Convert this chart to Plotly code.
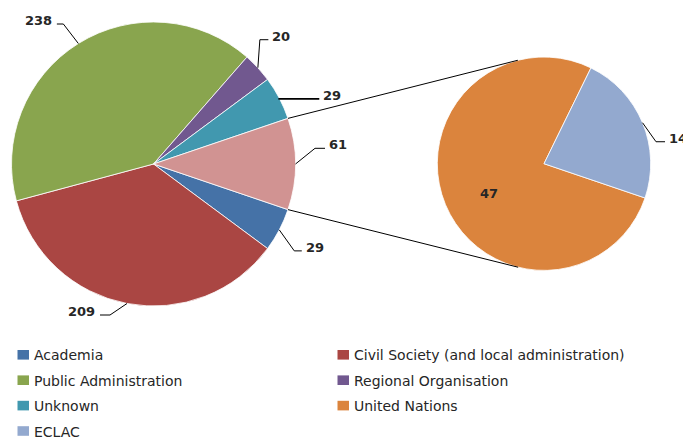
import math
import plotly.graph_objects as go

# ---- data -------------------------------------------------------------
main_labels = ["Academia", "Civil Society (and local administration)",
               "Public Administration", "Regional Organisation", "Unknown"]
main_values = [29, 209, 238, 20, 29]
sub_labels = ["United Nations", "ECLAC"]
sub_values = [47, 14]

legend_labels = main_labels + sub_labels

# ---- styling ----------------------------------------------------------
main_colors = ["#4572A7", "#AA4643", "#89A54E", "#71588F", "#4198AF"]
other_color = "#D19392"
sub_colors = ["#DB843D", "#93A9CF"]
TEXT = "#262626"
LABEL_FONT = dict(family="DejaVu Sans", size=13, color=TEXT, weight="bold")
LEGEND_FONT = dict(family="DejaVu Sans", size=14, color=TEXT)

W, H = 683, 439
main_c, main_r = (153.5, 164.0), 142.0
sub_c, sub_r = (544.0, 163.7), 106.7

# leader-line geometry per label: (elbow dx, elbow dy, horizontal run, line width)
leader_style = {
    "Academia": (15, 21, 7.5, 1),
    "Civil Society (and local administration)": (-17, 11.5, -10, 1),
    "Public Administration": (-15, -19.5, -6.5, 1),
    "Regional Organisation": (2, -28, 8.5, 1),
    "Unknown": (0, 0.8, 40, 1.8),
    "Other": (19.5, -15.7, 10, 1),
    "ECLAC": (13.5, 19, 9, 1),
}


def px(x):
    return x / W


def py(y):
    return 1 - y / H


def on_circle(c, r, math_deg):
    a = math.radians(math_deg)
    return c[0] + r * math.cos(a), c[1] - r * math.sin(a)


other_value = sum(sub_values)
all_main_values = main_values + [other_value]
main_total = sum(all_main_values)
other_span = 360 * other_value / main_total
# rotation (clockwise from 12 o'clock) that centres the "other" slice at 3 o'clock
rotation = 90 + other_span / 2

fig = go.Figure()

fig.add_trace(go.Pie(
    labels=main_labels + ["Other"], values=all_main_values, sort=False,
    direction="clockwise", rotation=rotation, textinfo="none", hoverinfo="label+value",
    marker=dict(colors=main_colors + [other_color], line=dict(color="white", width=0.8)),
    domain=dict(x=[px(main_c[0] - main_r), px(main_c[0] + main_r)],
                y=[py(main_c[1] + main_r), py(main_c[1] - main_r)]),
    showlegend=False,
))

fig.add_trace(go.Pie(
    labels=sub_labels, values=sub_values, sort=False,
    direction="clockwise", rotation=rotation, textinfo="none", hoverinfo="label+value",
    marker=dict(colors=sub_colors, line=dict(color="white", width=0.8)),
    domain=dict(x=[px(sub_c[0] - sub_r), px(sub_c[0] + sub_r)],
                y=[py(sub_c[1] + sub_r), py(sub_c[1] - sub_r)]),
    showlegend=False,
))

shapes = []
annotations = []


def slice_mids(values, rot):
    """Mid-angle (math degrees, CCW from east) of each clockwise slice."""
    total = sum(values)
    start = rot
    mids = []
    for v in values:
        span = 360 * v / total
        mids.append(90 - (start + span / 2))
        start += span
    return mids


def add_leader(center, radius, ang, key, value):
    ex, ey = on_circle(center, radius, ang)
    dx, dy, run, lw = leader_style[key]
    bx, by = ex + dx, ey + dy
    tx = bx + run
    shapes.append(dict(type="path", xref="paper", yref="paper",
                       path=f"M {px(ex)} {py(ey)} L {px(bx)} {py(by)} L {px(tx)} {py(by)}",
                       line=dict(color="black", width=lw)))
    right = run > 0
    annotations.append(dict(
        x=px(tx + (2 if right else -3)), y=py(by - 3.5), xref="paper", yref="paper",
        text=str(value), showarrow=False, font=LABEL_FONT,
        xanchor="left" if right else "right", yanchor="middle"))


main_mids = slice_mids(all_main_values, rotation)
for lab, val, ang in zip(main_labels + ["Other"], all_main_values, main_mids):
    add_leader(main_c, main_r, ang, lab, val)

sub_mids = slice_mids(sub_values, rotation)
# larger secondary slice labelled inside, the smaller one outside
inx, iny = on_circle(sub_c, sub_r * 0.57, sub_mids[0])
annotations.append(dict(x=px(inx + 1), y=py(iny + 6.5), xref="paper", yref="paper",
                        text=str(sub_values[0]), showarrow=False, font=LABEL_FONT,
                        xanchor="center", yanchor="middle"))
add_leader(sub_c, sub_r, sub_mids[1], "ECLAC", sub_values[1])

# connector lines from the edges of the "other" slice, tangent to the second pie
for sign in (1, -1):
    p = on_circle(main_c, main_r, sign * other_span / 2)
    vx, vy = p[0] - sub_c[0], -(p[1] - sub_c[1])
    d = math.hypot(vx, vy)
    phi = math.degrees(math.atan2(vy, vx))
    alpha = math.degrees(math.acos(sub_r / d))
    q = on_circle(sub_c, sub_r, phi - sign * alpha)
    shapes.append(dict(type="line", xref="paper", yref="paper",
                       x0=px(p[0]), y0=py(p[1]), x1=px(q[0]), y1=py(q[1]),
                       line=dict(color="black", width=1)))

# legend: two columns, row-major
legend_colors = main_colors + sub_colors
for i, (lab, col) in enumerate(zip(legend_labels, legend_colors)):
    row, column = divmod(i, 2)
    x0 = 17.5 + column * 320
    yc = 354.8 + row * 25.4
    shapes.append(dict(type="rect", xref="paper", yref="paper",
                       x0=px(x0), x1=px(x0 + 11.5), y0=py(yc + 4.8), y1=py(yc - 4.8),
                       fillcolor=col, line=dict(width=0)))
    annotations.append(dict(x=px(x0 + 14.5), y=py(yc + 0.5), xref="paper", yref="paper",
                            text=lab, showarrow=False, font=LEGEND_FONT,
                            xanchor="left", yanchor="middle"))

fig.update_layout(
    width=W, height=H, margin=dict(l=0, r=0, t=0, b=0),
    paper_bgcolor="white", plot_bgcolor="white",
    shapes=shapes, annotations=annotations, showlegend=False,
)

fig.write_html("out.html")
